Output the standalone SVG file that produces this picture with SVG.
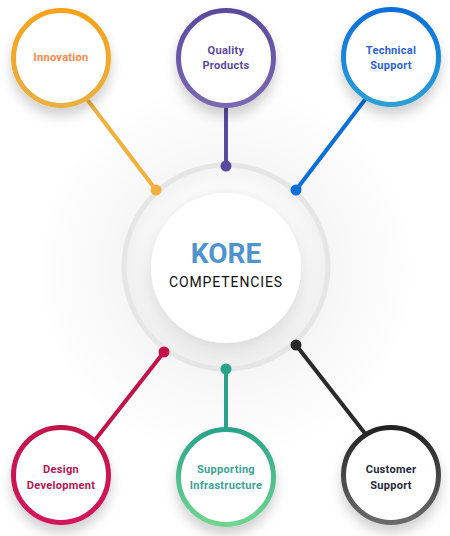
<svg xmlns="http://www.w3.org/2000/svg" width="450" height="536" viewBox="0 0 450 536">
<defs>
<style>
.lbl{font-family:Roboto,"Liberation Sans",sans-serif;font-weight:700;font-size:11px;text-anchor:middle;letter-spacing:0.3px}
.node{fill:#fff;stroke-width:5}
.conn{stroke-width:4;fill:none}
</style>
<filter id="sh" x="-50%" y="-50%" width="200%" height="200%">
<feDropShadow dx="0" dy="8" stdDeviation="6" flood-color="#000" flood-opacity="0.18"/>
</filter>
<filter id="shc" x="-50%" y="-50%" width="200%" height="200%">
<feDropShadow dx="0" dy="6" stdDeviation="8" flood-color="#000" flood-opacity="0.12"/>
</filter>
<radialGradient id="glow" cx="0.5" cy="0.5" r="0.5">
<stop offset="0.55" stop-color="#000" stop-opacity="0.035"/>
<stop offset="1" stop-color="#000" stop-opacity="0"/>
</radialGradient>
<radialGradient id="ringfill" cx="0.5" cy="0.45" r="0.5">
<stop offset="0.7" stop-color="#fafafa"/>
<stop offset="1" stop-color="#f0f0f0"/>
</radialGradient>
<linearGradient id="gInn" x1="0" y1="0" x2="0" y2="1"><stop offset="0" stop-color="#f8a21a"/><stop offset="1" stop-color="#e9b040"/></linearGradient>
<linearGradient id="gQua" x1="0" y1="0" x2="0" y2="1"><stop offset="0" stop-color="#5a4a9f"/><stop offset="1" stop-color="#7b68b2"/></linearGradient>
<linearGradient id="gTec" x1="0" y1="0" x2="0" y2="1"><stop offset="0" stop-color="#0a6fd9"/><stop offset="1" stop-color="#2ba0d6"/></linearGradient>
<linearGradient id="gDes" x1="0" y1="0" x2="0" y2="1"><stop offset="0" stop-color="#c2124a"/><stop offset="1" stop-color="#d3145a"/></linearGradient>
<linearGradient id="gSup" x1="0" y1="0" x2="0" y2="1"><stop offset="0" stop-color="#2aa38a"/><stop offset="1" stop-color="#6fd68f"/></linearGradient>
<linearGradient id="gCus" x1="0" y1="0" x2="0" y2="1"><stop offset="0" stop-color="#222"/><stop offset="1" stop-color="#6a6a6a"/></linearGradient>
</defs>
<rect width="450" height="536" fill="#fff"/>
<circle cx="226" cy="270" r="190" fill="url(#glow)"/>
<g id="center">
<circle cx="226" cy="267" r="102" fill="url(#ringfill)" stroke="#e6e6e6" stroke-width="5"/>
<circle cx="226" cy="268" r="75" fill="#fff" filter="url(#shc)"/>
<text x="226" y="263" font-family="Roboto,'Liberation Sans',sans-serif" font-weight="700" font-size="28" fill="#4f93cf" text-anchor="middle">KORE</text>
<text x="226" y="287" font-family="Roboto,'Liberation Sans',sans-serif" font-size="14" fill="#111" text-anchor="middle" letter-spacing="0.9">COMPETENCIES</text>
</g>
<g id="connectors">
<line class="conn" x1="86" y1="98" x2="156" y2="190" stroke="#f2b13f"/>
<circle cx="156" cy="190" r="5.5" fill="#f2b13f"/>
<line class="conn" x1="226" y1="106" x2="226" y2="166" stroke="#5a4a9f"/>
<circle cx="226" cy="166" r="5.5" fill="#5a4a9f"/>
<line class="conn" x1="367" y1="97" x2="296" y2="190" stroke="#0a6fd9"/>
<circle cx="296" cy="190" r="5.5" fill="#0a6fd9"/>
<line class="conn" x1="95" y1="440" x2="164" y2="352" stroke="#c2124a"/>
<circle cx="164" cy="352" r="5.5" fill="#c2124a"/>
<line class="conn" x1="226" y1="369" x2="226" y2="430" stroke="#2aa38a"/>
<circle cx="226" cy="369" r="5.5" fill="#2aa38a"/>
<line class="conn" x1="296" y1="345" x2="367" y2="436" stroke="#2a2a2a"/>
<circle cx="296" cy="345" r="5.5" fill="#2a2a2a"/>
</g>
<g id="innovation">
<circle class="node" cx="61" cy="58" r="47.5" stroke="url(#gInn)" filter="url(#sh)"/>
<text class="lbl" x="61" y="61" fill="#f5884e">Innovation</text>
</g>
<g id="quality">
<circle class="node" cx="226" cy="58" r="47.5" stroke="url(#gQua)" filter="url(#sh)"/>
<text class="lbl" x="226" y="54" fill="#5b4a9e">Quality</text>
<text class="lbl" x="226" y="69" fill="#5b4a9e">Products</text>
</g>
<g id="technical">
<circle class="node" cx="391" cy="57" r="47.5" stroke="url(#gTec)" filter="url(#sh)"/>
<text class="lbl" x="391" y="54" fill="#2c62d4">Technical</text>
<text class="lbl" x="391" y="69" fill="#2c62d4">Support</text>
</g>
<g id="design">
<circle class="node" cx="61" cy="475" r="47.5" stroke="url(#gDes)" filter="url(#sh)"/>
<text class="lbl" x="61" y="473" fill="#b5174f">Design</text>
<text class="lbl" x="61" y="489" fill="#b5174f">Development</text>
</g>
<g id="supporting">
<circle class="node" cx="226" cy="477" r="47.5" stroke="url(#gSup)" filter="url(#sh)"/>
<text class="lbl" x="226" y="473" fill="#3ba396">Supporting</text>
<text class="lbl" x="226" y="489" fill="#3ba396">Infrastructure</text>
</g>
<g id="customer">
<circle class="node" cx="391" cy="475" r="47.5" stroke="url(#gCus)" filter="url(#sh)"/>
<text class="lbl" x="391" y="473" fill="#252a3a">Customer</text>
<text class="lbl" x="391" y="489" fill="#252a3a">Support</text>
</g>
</svg>
